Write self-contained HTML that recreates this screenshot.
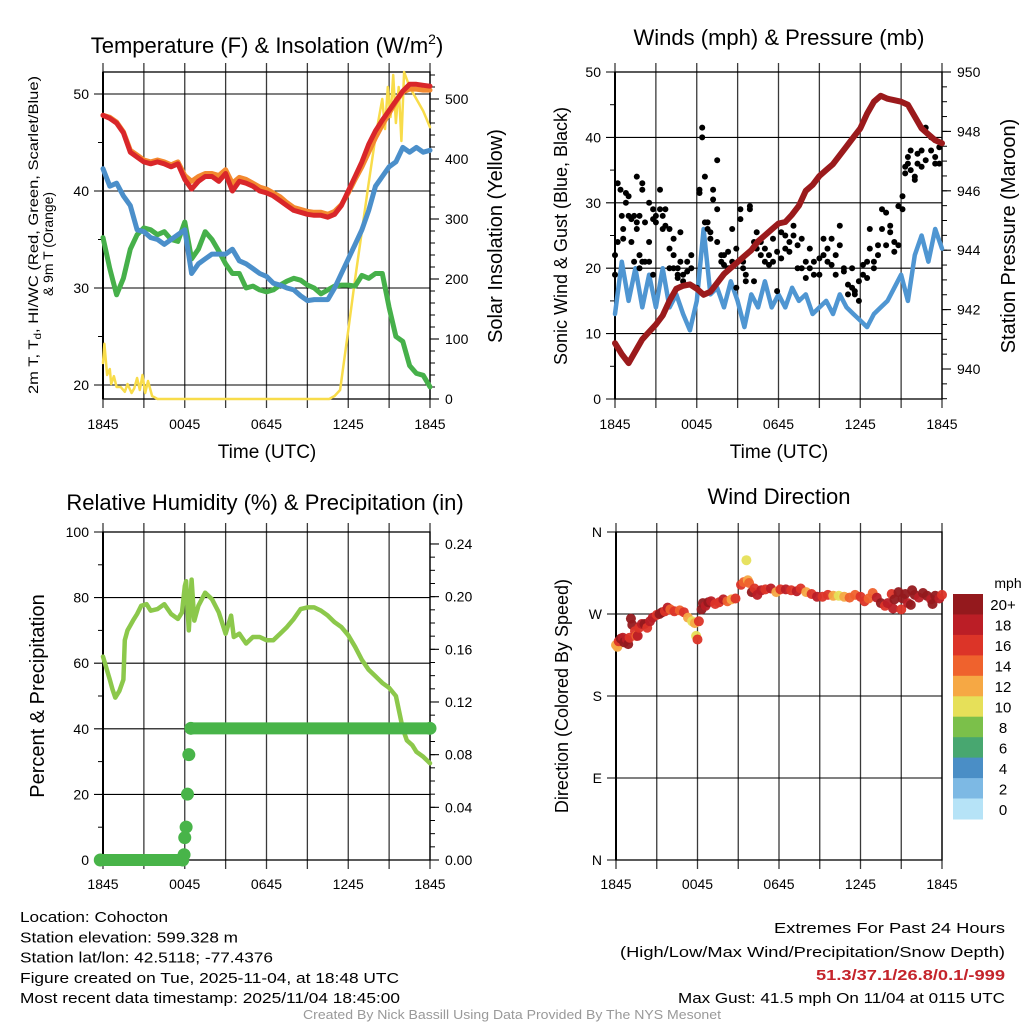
<!DOCTYPE html>
<html><head><meta charset="utf-8"><style>
html,body{margin:0;padding:0;background:#fff;}
svg{display:block;font-family:"Liberation Sans",sans-serif;}
</style></head><body>
<svg id="fig" width="1024" height="1024" viewBox="0 0 1024 1024">
<g id="layer"></g>
</svg>
<script>
// ---------- DATA ----------
const hourTicks=[0,6,12,18,24];
const hourLabels=["1845","0045","0645","1245","1845"];
const halfHours=[0,0.5,1,1.5,2,2.5,3,3.5,4,4.5,5,5.5,6,6.5,7,7.5,8,8.5,9,9.5,10,10.5,11,11.5,12,12.5,13,13.5,14,14.5,15,15.5,16,16.5,17,17.5,18,18.5,19,19.5,20,20.5,21,21.5,22,22.5,23,23.5,24];
const tempRed=[47.8,47.5,47,46,44,43.5,43,42.8,43,42.8,42.5,42.8,41.2,40.2,41,41.5,41.5,41,41.8,40,41,40.8,40.5,40,39.8,39.5,39,38.5,38,37.8,37.6,37.5,37.5,37.3,37.6,38.5,40,41.5,43,44.8,46.2,47.3,48.3,49.3,50.3,51,51,50.9,50.8];
const temp9mOrange=[47.8,47.6,47.1,46.1,44.2,43.7,43.2,43,43.2,43,42.7,43,41.6,41,41.5,41.8,41.8,41.6,42.2,40.8,41.4,41.2,40.8,40.4,40.2,39.8,39.4,38.8,38.3,38.1,37.9,37.8,37.8,37.6,37.9,38.6,39.8,41.2,42.5,44,45.5,46.8,48,49.2,50.2,50.5,50.5,50.4,50.4];
const windChillBlue=[42.3,40.5,40.8,39.5,38.5,36,35.8,35.2,35,34.5,35,35.5,36,31.5,32.5,33,33.5,33.5,33.5,34,32.8,32.5,32,31.5,31.2,30.5,30.3,30,29.8,29.2,28.7,28.8,28.8,28.8,30,31.5,33,34.5,36,38,40.5,41.5,42.5,43,44.5,44,44.5,44,44.2];
const dewGreen=[35.2,32,29.3,31,34,35.5,36.2,36,35.5,35.8,35,34.8,36.8,33,34,35.8,35,33.8,32.5,31.5,31.5,30,30.2,29.8,29.6,29.8,30.3,30.7,31,30.8,30.3,30,29.4,29.8,30.2,30.3,30.3,30.2,31.3,31,31.5,31.5,28,25,24.5,22,21.2,21,19.8];
const solarT=[0,0.1,0.3,0.5,0.6,0.8,1.0,1.3,1.6,1.8,2.1,2.3,2.5,2.7,2.9,3.1,3.3,3.6,4.0,16.6,17.0,17.4,18.0,18.5,19.0,19.5,20.0,20.5,20.7,20.9,21.1,21.3,21.5,21.7,21.9,22.1,22.5,23.0,23.5,24.0];
const solarV=[60,92,40,50,25,38,20,20,12,25,10,18,35,15,40,10,30,5,0,0,5,15,115,200,280,360,437,500,450,520,470,540,460,520,430,545,520,500,480,453];
const windSpeed=[13,21,15,20,14,19,14,20,14,16,13,10.5,15,26,16,17,14,18,15,11,16,14,18,14,16,14,17,15,16,13,14,15,13,16,14,13,12,11,13,14,15,17,19,15,22,25,21,26,23];
const pressure=[940.87,940.5,940.2,940.6,941,941.25,941.5,941.8,942.3,942.7,942.8,942.85,942.7,942.5,942.6,942.9,943.2,943.4,943.6,943.8,944,944.3,944.5,944.7,944.9,944.95,945.2,945.5,946,946.2,946.5,946.7,946.9,947.2,947.5,947.8,948.1,948.6,949,949.2,949.1,949.05,949,948.9,948.5,948.1,947.9,947.7,947.6];
const gustT=[0,0,0.2,0.2,0.4,0.5,0.6,0.6,0.8,0.8,1.0,1.0,1.2,1.2,1.4,1.4,1.6,1.6,1.6,1.8,1.8,1.8,2.0,2.0,2.0,2.2,2.2,2.5,2.5,2.5,2.8,2.8,2.8,3.0,3.0,3.3,3.3,3.5,3.5,3.7,3.7,4.0,4.0,4.0,4.3,4.3,4.3,4.6,4.6,4.6,4.8,4.8,5.0,5.0,5.3,5.3,5.6,5.6,6.0,6.2,6.2,6.4,6.4,6.6,6.6,6.8,6.8,7.0,7.0,7.2,7.2,7.5,7.5,7.5,7.8,7.8,8.0,8.0,8.3,8.3,8.6,8.6,8.9,8.9,9.2,9.2,9.4,9.4,9.6,9.6,9.9,9.9,10.2,10.2,10.4,10.4,10.7,10.7,11.0,11.0,11.3,11.3,11.6,11.6,11.9,11.9,12.2,12.2,12.5,12.5,12.8,12.8,13.1,13.1,13.4,13.4,13.7,13.7,14.0,14.0,14.3,14.3,14.6,14.6,15.0,15.0,15.3,15.3,15.6,15.6,15.9,15.9,16.2,16.2,16.5,16.5,16.8,16.8,17.1,17.1,17.4,17.4,17.6,17.6,17.9,17.9,18.2,18.2,18.5,18.5,18.7,18.7,19.0,19.0,19.3,19.3,19.6,19.6,19.9,19.9,20.2,20.2,20.5,20.5,20.8,20.8,21.1,21.1,21.3,21.3,21.5,21.5,21.7,21.7,22.0,22.0,22.2,22.2,22.5,22.5,22.8,22.8,23.2,23.2,23.5,23.5,23.8,23.8];
const gustV=[19,22,24,33,32,28,24.5,26,30,31.5,28,31,24,27.5,28,21,26,27,34,22,20,28,33,32,21,21,27,30,24,21,29,27.5,19,28,27,32,29,28,26,29,26.5,26,23,20,24.5,22,20,20,19,18.5,25.5,21,18,19,21,19.5,20,22,17,32,31.5,40,41.5,34,27,27,26,25.5,24.5,32,30.5,36.5,29,24,22,21,20.5,22,20,22.5,26,21,17,23,29,27.5,21,20,19,18,29,29.5,18,24,23,25.5,22,24,21,23,22,20.5,24.5,21,16.5,22.5,21.5,25.5,25,23,24,22.5,25,26.5,20,23.5,24.5,20,18.5,21,20,23,21,19,19,21.5,22,24.5,21,23,24.5,20.5,22,19,26.5,23.5,19.5,20,16,17.5,20,17,16.5,16,15,18,19,20.5,21,18.5,26,23,21,20,22,23.5,26,29,28.5,23.5,25.5,26.5,24,22.5,29.5,23.5,31,29,35.5,34.5,37,36,38,35,34,33.5,36,37.5,38,35.5,36.5,41.5,40,38,36,37,36,38.5];
const rhT=[0,0.5,0.7,0.9,1.2,1.5,1.6,1.8,2.2,2.5,2.8,3.2,3.5,4,4.5,5,5.5,5.8,6,6.1,6.3,6.5,6.7,7,7.5,8,8.5,9,9.4,9.6,10,10.5,11,11.5,12,12.5,13,13.5,14,14.5,15,15.5,16,16.5,17,17.5,18,18.5,19,19.5,20,20.5,21,21.5,22,22.3,22.7,23,23.5,24];
const rhV=[62,55,52,49.5,51.5,55,67,70,73,75,77.5,78,76,76.5,78,75,73.5,75.5,83.5,85,70,85.5,73,77.5,81.5,79.5,75.5,69,74.5,68,69,66,68,68,67,67,69,71,73.5,76.5,77,77,76,74.5,72.5,71,68.5,65,61,58,56,54,52.5,50,40,36.5,35,33,31.5,29.5];
const precipT=[-0.2,5.85,5.95,6.0,6.1,6.2,6.3,6.45,24];
const precipV=[0,0,0.004,0.017,0.025,0.05,0.08,0.1,0.1];
const dirT=[0,0.1,0.2,0.35,0.5,0.6,0.8,0.9,1.0,1.1,1.2,1.4,1.5,1.6,1.7,1.9,2.1,2.3,2.5,2.7,3.0,3.2,3.4,3.6,3.8,4.0,4.3,4.7,5.0,5.3,5.6,5.8,5.9,6.0,6.1,6.3,6.4,6.6,6.8,7.0,7.3,7.6,7.9,8.2,8.5,8.8,9.2,9.4,9.6,9.7,9.8,10.0,10.2,10.4,10.7,11.0,11.4,11.8,12.1,12.5,12.9,13.3,13.6,14.0,14.4,14.8,15.2,15.6,16.0,16.4,16.8,17.2,17.6,18.0,18.3,18.6,18.9,19.2,19.5,19.8,20.0,20.3,20.4,20.5,20.8,21.0,21.1,21.3,21.5,21.7,21.8,22.0,22.3,22.6,22.9,23.2,23.3,23.5,23.8,24.0];
const dirDeg=[236,234,240,243,244,239,242,237,244,265,258,251,246,246,255,259,259,255,262,266,269,270,272,273,277,275,273,274,272,266,262,260,246,242,262,275,282,279,283,284,281,283,286,284,286,287,302,305,329,307,304,294,298,291,296,297,298,294,297,297,296,295,298,294,292,289,289,291,290,290,289,288,291,289,284,287,293,288,282,279,282,292,276,286,294,275,287,292,282,280,296,291,288,293,290,286,281,290,287,291];
const dirSpd=[13,12,17,20,19,20,18,20,16,20,20,16,14,18,16,18,20,16,18,18,16,20,20,16,18,14,16,14,16,12,10,12,10,16,16,20,20,18,20,18,16,16,18,14,12,16,16,14,10,12,14,20,16,18,18,16,18,12,16,18,16,18,16,12,16,18,16,16,12,10,12,14,14,16,16,14,14,18,20,16,18,16,18,20,20,16,20,20,18,20,20,20,18,20,20,18,20,20,18,16];
const speedBins=[0,2,4,6,8,10,12,14,16,18,20];
const binLabels=["0","2","4","6","8","10","12","14","16","18","20+"];
const binColors=["#b6e3f7","#7db9e4","#4a8ec6","#48a770","#7bc04a","#e6e059","#f6a844","#ef622d","#dc3428","#bb1e26","#94191d"];

// ---------- HELPERS ----------
const NS="http://www.w3.org/2000/svg";
const root=document.getElementById('layer');
function mk(tag,attrs,parent,text){const e=document.createElementNS(NS,tag);for(const k in attrs)e.setAttribute(k,attrs[k]);if(text!==undefined)e.textContent=text;(parent||root).appendChild(e);return e;}
const P1={x0:103,x1:430,y0:72,y1:399,lmin:18.557,lmax:52.268,rmin:0,rmax:545};
const P2={x0:615,x1:942,y0:72,y1:399,lmin:0,lmax:50,rmin:938.99,rmax:950};
const P3={x0:103,x1:430,y0:532,y1:860,lmin:0,lmax:100,rmin:0,rmax:0.2491};
const P4={x0:616,x1:942,y0:532,y1:860,lmin:0,lmax:360};
function X(p,h){return p.x0+h/24*(p.x1-p.x0);}
function YL(p,v){return p.y1-(v-p.lmin)/(p.lmax-p.lmin)*(p.y1-p.y0);}
function YR(p,v){return p.y1-(v-p.rmin)/(p.rmax-p.rmin)*(p.y1-p.y0);}

function frame(p,name,lMaj,lMin,lLab,rMaj,rMin,rLab,tickY){
  const g=mk('g',{});
  
  
  for(let h=0;h<=24;h+=3){
    const l=mk('line',{x1:X(p,h),x2:X(p,h),y1:p.y0-9,y2:p.y1+9,stroke:'#3a3a3a','stroke-width':1.3},g);
    
    
  }
  lMin.forEach(v=>{const y=YL(p,v);mk('line',{x1:p.x0-5,x2:p.x0,y1:y,y2:y,stroke:'#000','stroke-width':1},g);});
  lMaj.forEach((v,i)=>{const y=YL(p,v);
    const l=mk('line',{x1:p.x0-9,x2:p.x1,y1:y,y2:y,stroke:'#000','stroke-width':1.1},g);
    
    
    const t=mk('text',{x:p.x0-14,y:y+5,'text-anchor':'end','font-size':14},g,lLab[i]);
    
    
  });
  if(rMaj){
    rMin.forEach(v=>{const y=YR(p,v);mk('line',{x1:p.x1,x2:p.x1+5,y1:y,y2:y,stroke:'#000','stroke-width':1},g);});
    rMaj.forEach((v,i)=>{const y=YR(p,v);
      mk('line',{x1:p.x1,x2:p.x1+9,y1:y,y2:y,stroke:'#000','stroke-width':1.1},g);
      const t=mk('text',{x:p.x1+15,y:y+5,'font-size':14},g,rLab[i]);
      
      
    });
  }
  mk('rect',{x:p.x0,y:p.y0,width:p.x1-p.x0,height:p.y1-p.y0,fill:'none',stroke:'#000','stroke-width':1.3},g);
  mk('line',{x1:p.x0,x2:p.x0,y1:p.y0,y2:p.y1,stroke:'#000','stroke-width':2},g);
  hourTicks.forEach((h,i)=>{
    const t=mk('text',{x:X(p,h),y:tickY,'text-anchor':'middle','font-size':14},g,hourLabels[i]);
    
    
  });
}
function line(p,ts,vs,yf,color,w,name){
  const d=ts.map((t,i)=>(i?'L':'M')+X(p,t).toFixed(1)+','+yf(p,vs[i]).toFixed(1)).join('');
  const e=mk('path',{d:d,fill:'none',stroke:color,'stroke-width':w,'stroke-linejoin':'round','stroke-linecap':'round'});
  
  
}
function label(x,y,txt,size,name,rot,extra){
  const a={x:x,y:y,'font-size':size,'text-anchor':'middle'};
  if(rot)a.transform='rotate(-90 '+x+' '+y+')';
  Object.assign(a,extra||{});
  const t=mk('text',a,root,txt);
  
  
  return t;
}
function range(a,b,s){const r=[];for(let v=a;v<=b+1e-9;v+=s)r.push(+v.toFixed(4));return r;}

// ---------- PANEL 1 ----------
frame(P1,'temperature',[20,30,40,50],[25,35,45],["20","30","40","50"],range(0,500,100),range(0,540,20),["0","100","200","300","400","500"],429);
line(P1,solarT,solarV,YR,'#f8dc4a',2.5,'solar-insolation-line');
line(P1,halfHours,dewGreen,YL,'#46b04a',5,'dewpoint-line');
line(P1,halfHours,windChillBlue,YL,'#4b8fca',5,'wind-chill-line');
line(P1,halfHours,temp9mOrange,YL,'#f3892f',5,'temp-9m-line');
line(P1,halfHours,tempRed,YL,'#d9262a',5,'temp-2m-line');
const t1=label(267,53,'Temperature (F) & Insolation (W/m',22,'temperature-panel-title');
mk('tspan',{'font-size':14,dy:-9},t1,'2');
mk('tspan',{dy:9},t1,')');
{const t=label(38,235,'',14,'temperature-y-axis-title-line1',true,{textLength:318,lengthAdjust:'spacingAndGlyphs'});
 mk('tspan',{},t,'2m T, T');mk('tspan',{'font-size':10,dy:3},t,'d');mk('tspan',{dy:-3},t,', HI/WC (Red, Green, Scarlet/Blue)');}
label(53,244,'& 9m T (Orange)',14,'temperature-y-axis-title-line2',true,{textLength:104,lengthAdjust:'spacingAndGlyphs'});
label(502,236,'Solar Insolation (Yellow)',20,'solar-y-axis-title',true);
label(267,458,'Time (UTC)',19,'temperature-x-axis-title');

// ---------- PANEL 2 ----------
frame(P2,'winds',range(0,50,10),range(5,45,10),["0","10","20","30","40","50"],range(940,950,2),range(939,950,0.5),["940","942","944","946","948","950"],429);
line(P2,halfHours,windSpeed,YL,'#4f96d2',4.5,'sonic-wind-line');
gustT.forEach((t,i)=>{const c=mk('circle',{cx:X(P2,t).toFixed(1),cy:YL(P2,gustV[i]).toFixed(1),r:3,fill:'#000'});
  
  });
line(P2,halfHours,pressure,YR,'#9b1a1c',6,'pressure-line');
label(779,45,'Winds (mph) & Pressure (mb)',22,'winds-panel-title');
label(567,236,'Sonic Wind & Gust (Blue, Black)',18,'winds-y-axis-title',true);
label(1015,236,'Station Pressure (Maroon)',20,'pressure-y-axis-title',true);
label(779,458,'Time (UTC)',19,'winds-x-axis-title');

// ---------- PANEL 3 ----------
frame(P3,'humidity',range(0,100,20),range(10,90,20),["0","20","40","60","80","100"],range(0,0.24,0.04),range(0,0.24,0.01),["0.00","0.04","0.08","0.12","0.16","0.20","0.24"],889);
line(P3,rhT,rhV,YL,'#8cc84b',4.5,'relative-humidity-line');
precipT.forEach((t,i)=>{
  if(i>0&&precipV[i]===precipV[i-1]){
    const s=mk('line',{x1:X(P3,precipT[i-1]),x2:X(P3,t),y1:YR(P3,precipV[i]),y2:YR(P3,precipV[i]),stroke:'#48b449','stroke-width':12});
    
    
  }
  const c=mk('circle',{cx:X(P3,t),cy:YR(P3,precipV[i]),r:6.5,fill:'#48b449'});
  
  
});
label(265,510,'Relative Humidity (%) & Precipitation (in)',22,'humidity-panel-title');
label(44,696,'Percent & Precipitation',20,'humidity-y-axis-title',true);

// ---------- PANEL 4 ----------
frame(P4,'wind-direction',[0,90,180,270,360],[],["N","E","S","W","N"],null,null,null,889);
function binColor(s){let k=0;speedBins.forEach((b,i)=>{if(s>=b)k=i;});return binColors[k];}
dirT.forEach((t,i)=>{const c=mk('circle',{cx:X(P4,t).toFixed(1),cy:YL(P4,dirDeg[i]).toFixed(1),r:5,fill:binColor(dirSpd[i]),'fill-opacity':0.95});
  
  });
label(779,504,'Wind Direction',22,'direction-panel-title');
label(568,696,'Direction (Colored By Speed)',18,'direction-y-axis-title',true);
// colorbar
{const top=594,bot=819,h=(bot-top)/binColors.length;
 const g=mk('g',{});
 for(let i=0;i<binColors.length;i++){const k=binColors.length-1-i;
   const r=mk('rect',{x:953,y:(top+i*h).toFixed(1),width:30,height:(h+0.5).toFixed(1),fill:binColors[k]},g);
   
   
   const t=mk('text',{x:1003,y:(top+i*h+h/2+6).toFixed(1),'text-anchor':'middle','font-size':15},g,binLabels[k]);
   
   }
 const m=mk('text',{x:1008,y:588,'text-anchor':'middle','font-size':14},g,'mph');
 
 }

// ---------- FOOTER ----------
const leftLines=[["Location: Cohocton",148],["Station elevation: 599.328 m",218],["Station lat/lon: 42.5118; -77.4376",253],["Figure created on Tue, 2025-11-04, at 18:48 UTC",379],["Most recent data timestamp: 2025/11/04 18:45:00",380]];
leftLines.forEach((l,i)=>{const t=mk('text',{x:20,y:922+i*20.3,'font-size':15,textLength:l[1],lengthAdjust:'spacingAndGlyphs'},root,l[0]);
  
  });
const rightLines=[["Extremes For Past 24 Hours",231,933,'#000','normal'],["(High/Low/Max Wind/Precipitation/Snow Depth)",385,957,'#000','normal'],["51.3/37.1/26.8/0.1/-999",189,980,'#c4242b','bold'],["Max Gust: 41.5 mph On 11/04 at 0115 UTC",327,1003,'#000','normal']];
rightLines.forEach(l=>{const t=mk('text',{x:1005,y:l[2],'font-size':15,'text-anchor':'end',fill:l[3],'font-weight':l[4],textLength:l[1],lengthAdjust:'spacingAndGlyphs'},root,l[0]);
  
  });
{const t=mk('text',{x:512,y:1019,'font-size':12.5,'text-anchor':'middle',fill:'#999',textLength:418,lengthAdjust:'spacingAndGlyphs'},root,'Created By Nick Bassill Using Data Provided By The NYS Mesonet');
 
 }
</script>
</body></html>
